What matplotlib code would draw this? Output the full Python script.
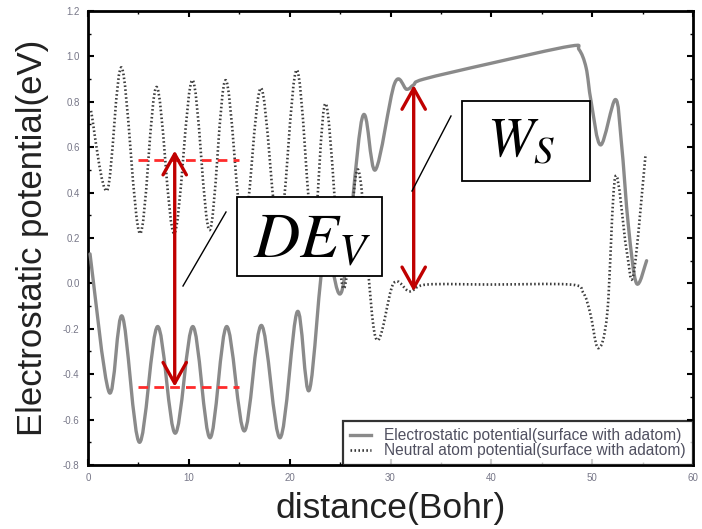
import numpy as np
import matplotlib
matplotlib.use("Agg")
import matplotlib.pyplot as plt
from matplotlib.path import Path
from matplotlib.patches import PathPatch, Rectangle
from matplotlib.lines import Line2D
from matplotlib.ticker import MultipleLocator

# ---- data ----
es_x = [0.2, 2.1, 3.4, 5.1, 6.9, 8.65, 10.4, 12.1, 13.75, 15.5, 17.2, 19.05, 20.75,
        21.95, 23.5, 25.2, 27.2, 28.5, 30.4, 31.6, 32.3, 33.3, 40.0, 47.8, 48.7,
        49.4, 49.9, 50.85, 52.3, 52.9, 53.6, 54.4, 55.4]
es_y = [0.13, -0.48, -0.145, -0.70, -0.19, -0.66, -0.19, -0.68, -0.19, -0.65, -0.185,
        -0.68, -0.125, -0.47, 0.15, -0.03, 0.73, 0.50, 0.88, 0.855, 0.875, 0.90, 0.97,
        1.045, 1.03, 0.95, 0.80, 0.61, 0.81, 0.62, 0.25, 0.0, 0.10]

na_x = [0.3, 1.9, 3.35, 5.15, 6.8, 8.55, 10.35, 12.05, 13.65, 15.4, 17.15, 18.95, 20.7,
        22.3, 23.6, 25.3, 26.8, 28.5, 30.3, 31.9, 33.6, 40.0, 47.8, 49.1, 49.8, 50.6,
        51.5, 52.3, 53.4, 54.1, 55.3]
na_y = [0.76, 0.41, 0.95, 0.22, 0.865, 0.22, 0.895, 0.235, 0.895, 0.235, 0.86, 0.22,
        0.94, 0.22, 0.79, -0.02, 0.50, -0.235, 0.0, -0.035, -0.005, -0.005, -0.005,
        -0.04, -0.13, -0.285, -0.13, 0.47, 0.15, 0.04, 0.57]

series_labels = ["Electrostatic potential(surface with adatom)",
                 "Neutral atom potential(surface with adatom)"]

dev_levels = [0.545, -0.455]      # red dashed levels
dev_span = [5.0, 15.0]
dev_arrow_x = 8.6
ws_arrow_x = 32.3
ws_arrow_y = [0.874, -0.035]

x_ticks = [0, 10, 20, 30, 40, 50, 60]
y_ticks = [-0.8, -0.6, -0.4, -0.2, 0.0, 0.2, 0.4, 0.6, 0.8, 1.0, 1.2]


def smooth_path(xs, ys):
    """Catmull-Rom curve through the read points, as cubic Bezier segments."""
    p = np.column_stack([xs, ys])
    n = len(p)
    verts = [p[0]]
    codes = [Path.MOVETO]
    for i in range(n - 1):
        p0 = p[i - 1] if i > 0 else p[i]
        p1 = p[i]
        p2 = p[i + 1]
        p3 = p[i + 2] if i + 2 < n else p[i + 1]
        c1 = p1 + (p2 - p0) / 6.0
        c2 = p2 - (p3 - p1) / 6.0
        verts += [c1, c2, p2]
        codes += [Path.CURVE4] * 3
    return Path(verts, codes)


fig = plt.figure(figsize=(7.02, 5.29), dpi=100)
ax = fig.add_axes([88 / 702, 64 / 529, 605 / 702, 454 / 529])

es_color = "#8a8a8a"
na_style = (0, (0.6, 0.9))
ax.add_patch(PathPatch(smooth_path(es_x, es_y), facecolor="none", edgecolor=es_color,
                       lw=2.4, capstyle="round", joinstyle="round", zorder=3))
ax.add_patch(PathPatch(smooth_path(na_x, na_y), facecolor="none", edgecolor="#3c3c3c",
                       lw=1.9, linestyle=na_style, zorder=3))

ax.set_xlim(0, 60)
ax.set_ylim(-0.8, 1.2)
ax.set_xticks(x_ticks)
ax.set_yticks(y_ticks)
ax.set_yticklabels([f"{v:.1f}" for v in y_ticks])
ax.xaxis.set_minor_locator(MultipleLocator(5))
ax.yaxis.set_minor_locator(MultipleLocator(0.1))
ax.tick_params(which="both", direction="in", top=True, right=True, colors="black",
               labelcolor="#777788", labelsize=7, width=1.5)
ax.tick_params(which="major", length=4, pad=6)
ax.tick_params(which="minor", length=2.5, width=1.0)
for lab in ax.get_xticklabels() + ax.get_yticklabels():
    lab.set_fontfamily("Liberation Sans")
for s in ax.spines.values():
    s.set_linewidth(2.0)

ax.set_xlabel("distance(Bohr)", fontsize=25.5, family="Liberation Sans", color="#222222",
              labelpad=6)
ax.set_ylabel("Electrostatic potential(eV)", fontsize=25, family="Liberation Sans",
              color="#222222", labelpad=10)

# legend
handles = [Line2D([], [], color=es_color, lw=2.4),
           Line2D([], [], color="#333333", lw=1.9, linestyle=na_style)]
leg = ax.legend(handles, series_labels, loc="lower right", borderaxespad=0,
                frameon=True, fancybox=False, handlelength=1.35, handletextpad=0.85,
                prop={"family": "Liberation Sans", "size": 11.2}, labelspacing=0.0,
                borderpad=0.45)
leg.get_frame().set_edgecolor("black")
leg.get_frame().set_linewidth(1.6)
for t in leg.get_texts():
    t.set_color("#505060")

# red dashed levels
for lv in dev_levels:
    ax.plot(dev_span, [lv, lv], color="#ff2b2b", lw=2.0, dashes=(3.5, 2.2), zorder=4)

arrow_style = "<->,head_length=0.75,head_width=0.42"
ax.annotate("", xy=(dev_arrow_x, dev_levels[0] + 0.04), xytext=(dev_arrow_x, dev_levels[1]),
            arrowprops=dict(arrowstyle=arrow_style, color="#c00000", lw=2.4,
                            shrinkA=0, shrinkB=0, mutation_scale=20), zorder=5)
ax.annotate("", xy=(ws_arrow_x, ws_arrow_y[0]), xytext=(ws_arrow_x, ws_arrow_y[1]),
            arrowprops=dict(arrowstyle=arrow_style, color="#c00000", lw=2.4,
                            shrinkA=0, shrinkB=0, mutation_scale=20), zorder=5)

# callout boxes (pixel-measured positions converted to data)
def px2data(px, py):
    return ((px - 88) / 605 * 60, 1.2 - (py - 11) / 454 * 2.0)

x0, y1 = px2data(237, 197)
x1, y0 = px2data(382, 276)
ax.add_patch(Rectangle((x0, y0), x1 - x0, y1 - y0, facecolor="white", edgecolor="black",
                       lw=1.3, zorder=6))
ax.text((x0 + x1) / 2 + 0.3, (y0 + y1) / 2 - 0.01, r"$DE_{V}$", fontsize=46, ha="center",
        va="center", zorder=7, math_fontfamily="stix")
a = px2data(226, 212)
b = px2data(183, 286)
ax.plot([a[0], b[0]], [a[1], b[1]], color="black", lw=1.0, zorder=6)

x0, y1 = px2data(462, 101)
x1, y0 = px2data(590, 181)
ax.add_patch(Rectangle((x0, y0), x1 - x0, y1 - y0, facecolor="white", edgecolor="black",
                       lw=1.3, zorder=6))
ax.text((x0 + x1) / 2 - 0.5, (y0 + y1) / 2, r"$W_{S}$", fontsize=40, ha="center",
        va="center", zorder=7, math_fontfamily="stix")
a = px2data(451, 116)
b = px2data(412, 191)
ax.plot([a[0], b[0]], [a[1], b[1]], color="black", lw=1.0, zorder=6)

fig.savefig("out.png", dpi=100)
